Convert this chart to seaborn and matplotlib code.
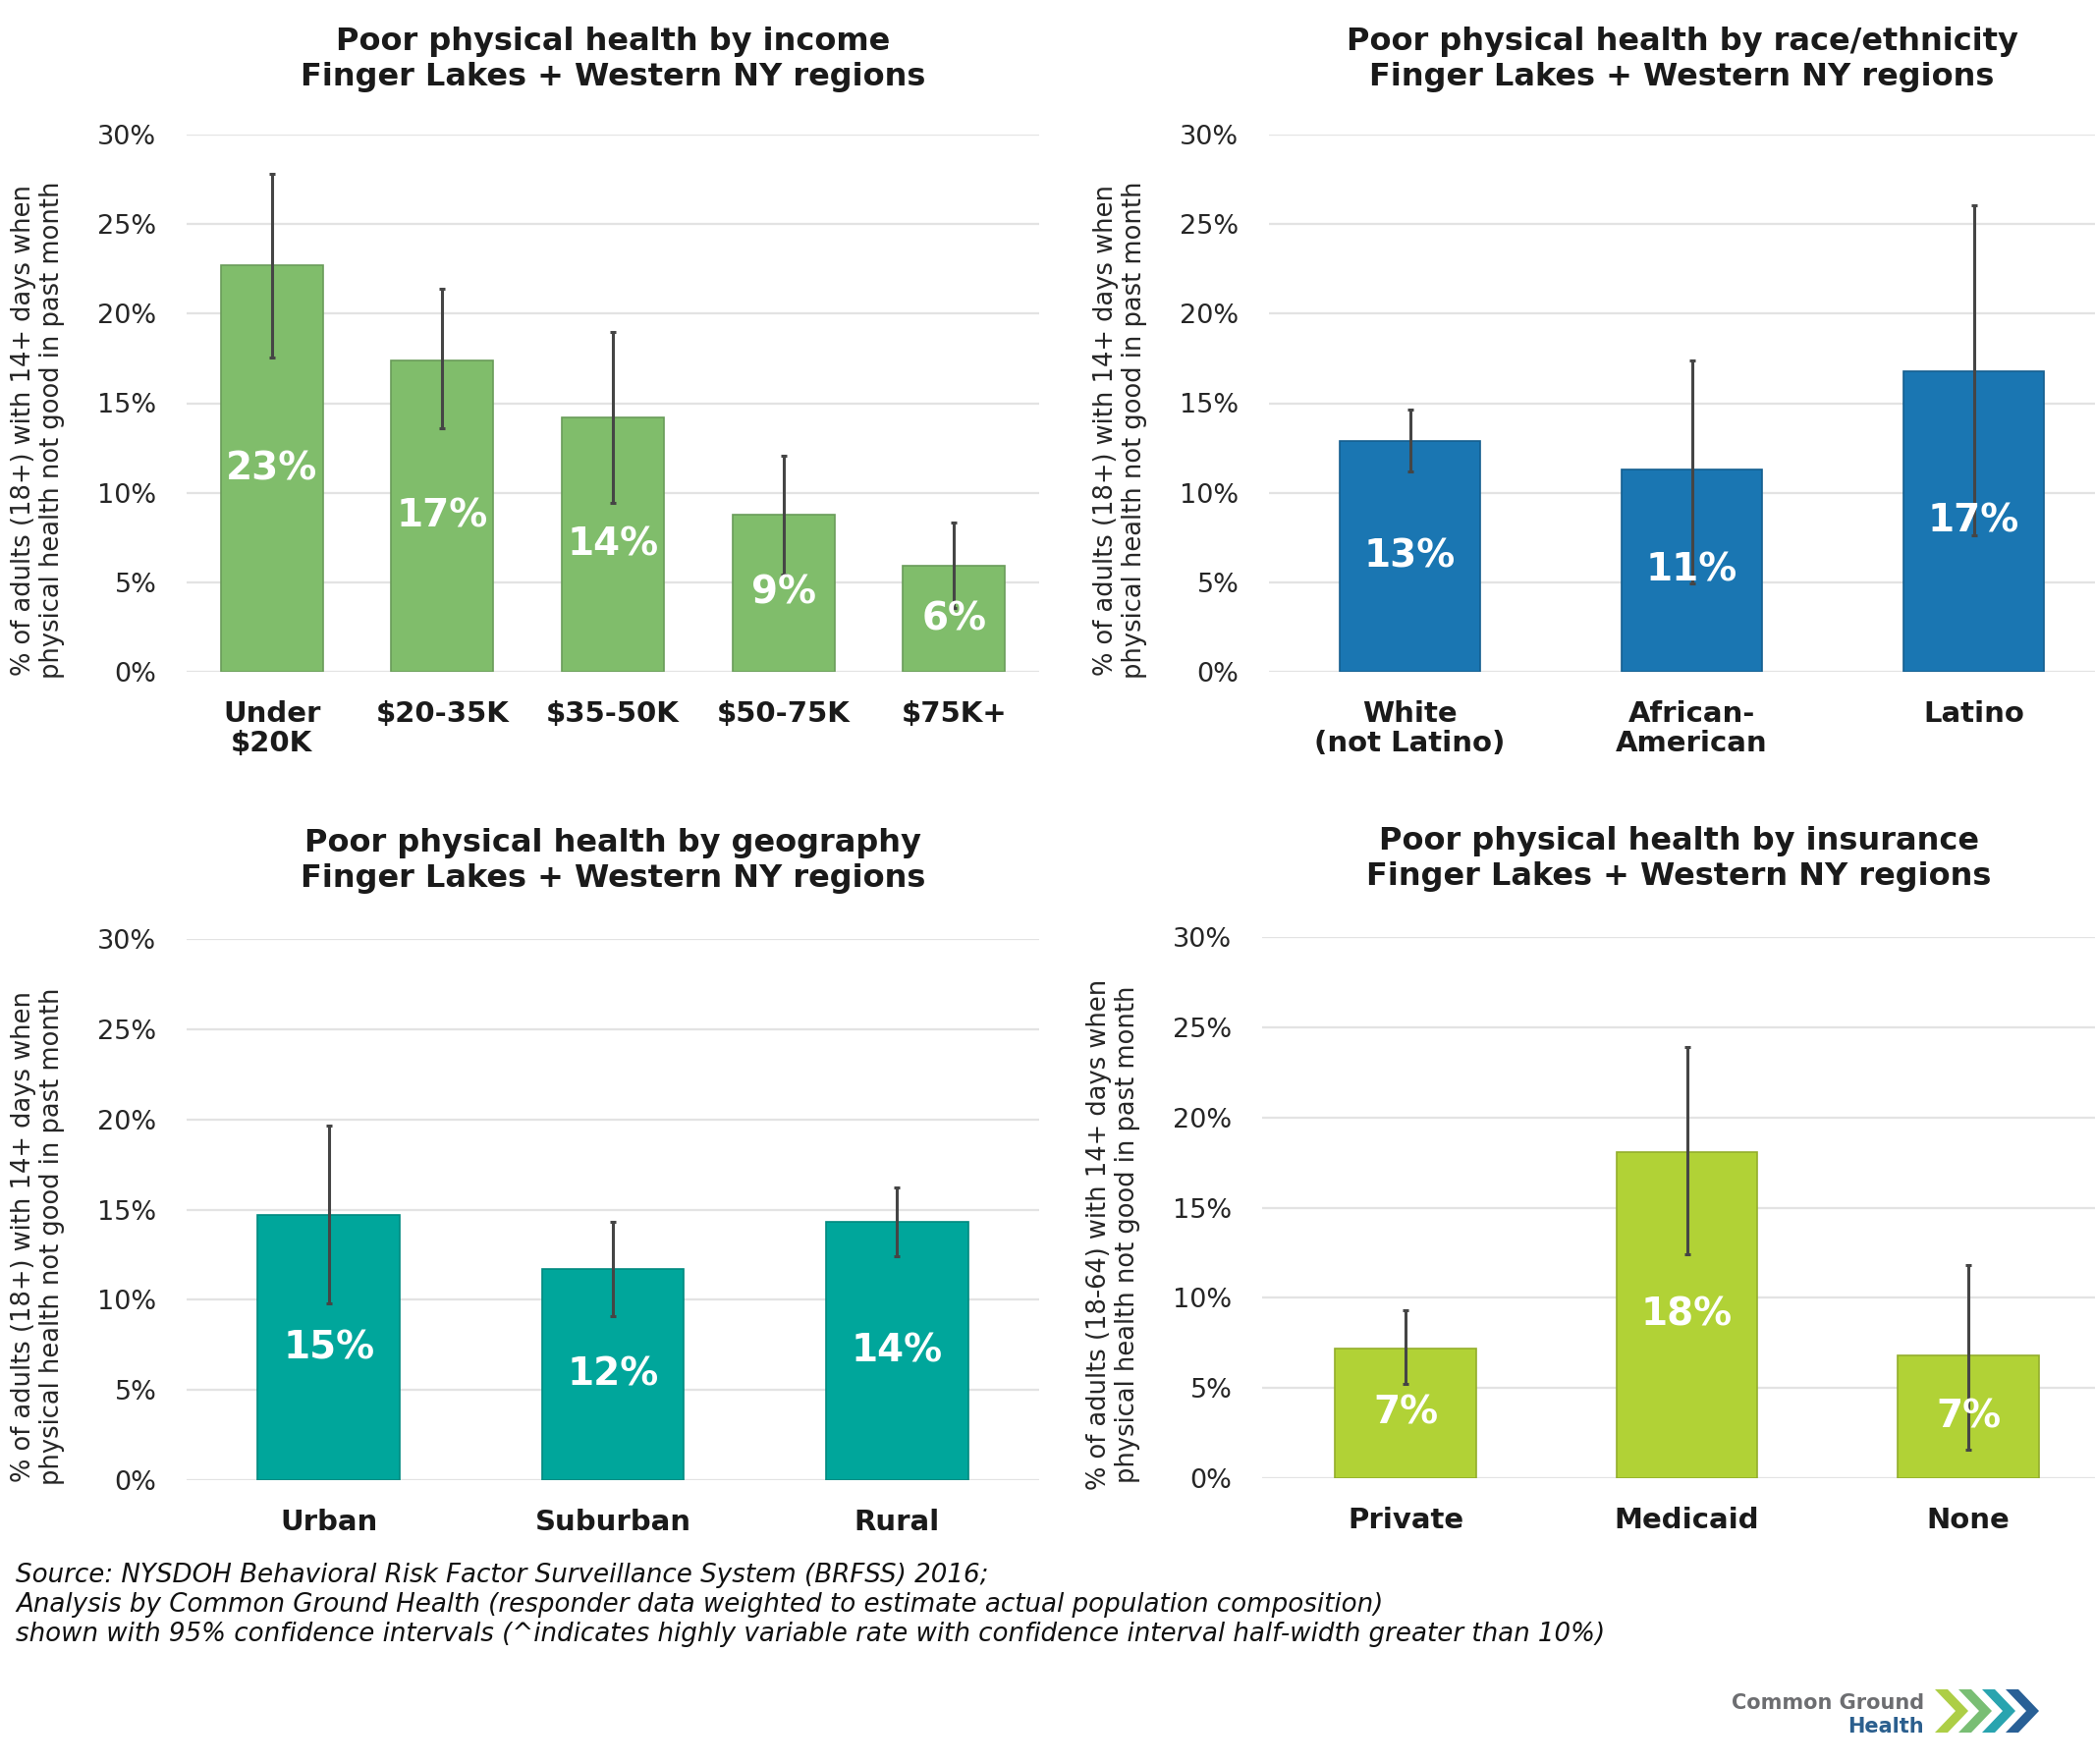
import numpy as np
import pandas as pd
import matplotlib
matplotlib.use("Agg")
import matplotlib.pyplot as plt
from matplotlib.patches import Polygon
import seaborn as sns

# ---------------- data ----------------
income_cats = ["Under\n$20K", "$20-35K", "$35-50K", "$50-75K", "$75K+"]
income_vals = [22.7, 17.4, 14.2, 8.8, 5.9]
income_lo = [17.55, 13.6, 9.45, 5.45, 3.55]
income_hi = [27.8, 21.4, 19.0, 12.05, 8.35]

race_cats = ["White\n(not Latino)", "African-\nAmerican", "Latino"]
race_vals = [12.9, 11.3, 16.8]
race_lo = [11.2, 4.95, 7.65]
race_hi = [14.65, 17.4, 26.05]

geo_cats = ["Urban", "Suburban", "Rural"]
geo_vals = [14.7, 11.7, 14.3]
geo_lo = [9.8, 9.1, 12.4]
geo_hi = [19.65, 14.3, 16.2]

ins_cats = ["Private", "Medicaid", "None"]
ins_vals = [7.2, 18.1, 6.8]
ins_lo = [5.2, 12.4, 1.6]
ins_hi = [9.3, 23.9, 11.8]

yticks = [0, 5, 10, 15, 20, 25, 30]
ytick_labels = ["0%", "5%", "10%", "15%", "20%", "25%", "30%"]

titles = [
    "Poor physical health by income\nFinger Lakes + Western NY regions",
    "Poor physical health by race/ethnicity\nFinger Lakes + Western NY regions",
    "Poor physical health by geography\nFinger Lakes + Western NY regions",
    "Poor physical health by insurance\nFinger Lakes + Western NY regions",
]
ylabel_18 = "% of adults (18+) with 14+ days when\nphysical health not good in past month"
ylabel_1864 = "% of adults (18-64) with 14+ days when\nphysical health not good in past month"

source_text = ("Source: NYSDOH Behavioral Risk Factor Surveillance System (BRFSS) 2016;\n"
               "Analysis by Common Ground Health (responder data weighted to estimate actual population composition)\n"
               "shown with 95% confidence intervals (^indicates highly variable rate with confidence interval half-width greater than 10%)")

# ---------------- style ----------------
sns.set_style("white")
plt.rcParams["font.family"] = ["DejaVu Sans"]

W, H = 2133, 1796
fig = plt.figure(figsize=(W / 100, H / 100), dpi=100)
fig.patch.set_facecolor("white")


def px_axes(left, top, right, bottom):
    return fig.add_axes([left / W, 1 - bottom / H, (right - left) / W, (bottom - top) / H])


panels = [
    dict(rect=(190, 137, 1058, 684), cats=income_cats, vals=income_vals, lo=income_lo, hi=income_hi,
         color="#80bd6b", edge="#6a9c5a", width=0.6, xlim=(-0.5, 4.5), title=titles[0],
         ylabel=ylabel_18, pad=36),
    dict(rect=(1292, 137, 2133, 684), cats=race_cats, vals=race_vals, lo=race_lo, hi=race_hi,
         color="#1a76b2", edge="#155f90", width=0.5, xlim=(-0.5, 2.43), title=titles[1],
         ylabel=ylabel_18, pad=36),
    dict(rect=(190, 956, 1058, 1507), cats=geo_cats, vals=geo_vals, lo=geo_lo, hi=geo_hi,
         color="#00a69b", edge="#008a80", width=0.5, xlim=(-0.5, 2.5), title=titles[2],
         ylabel=ylabel_18, pad=38),
    dict(rect=(1285, 954, 2133, 1505), cats=ins_cats, vals=ins_vals, lo=ins_lo, hi=ins_hi,
         color="#b1d236", edge="#93ae2c", width=0.5, xlim=(-0.51, 2.45), title=titles[3],
         ylabel=ylabel_1864, pad=38),
]

for p in panels:
    l, t, r, b = p["rect"]
    ax = px_axes(l, t, r, b)
    df = pd.DataFrame({"cat": p["cats"], "val": p["vals"]})
    sns.barplot(data=df, x="cat", y="val", color=p["color"], width=p["width"],
                saturation=1, edgecolor=p["edge"], linewidth=1.2, errorbar=None, ax=ax, zorder=2)
    vals = np.array(p["vals"])
    lo = np.array(p["lo"])
    hi = np.array(p["hi"])
    xs = np.arange(len(vals))
    ax.errorbar(xs, vals, yerr=[vals - lo, hi - vals], fmt="none", ecolor="#454545",
                elinewidth=2.2, capsize=2.5, capthick=2.2, zorder=3)
    ax.bar_label(ax.containers[0], labels=[f"{v:.0f}%" for v in vals], label_type="center",
                 color="white", fontsize=28, fontweight="bold", zorder=4)
    ax.set_ylim(0, 30)
    ax.set_xlim(*p["xlim"])
    ax.set_yticks(yticks)
    ax.set_yticklabels(ytick_labels, fontsize=19.5, color="#262626")
    ax.tick_params(axis="y", length=0, pad=22)
    ax.tick_params(axis="x", length=0, pad=21)
    for lab in ax.get_xticklabels():
        lab.set_fontsize(21)
        lab.set_fontweight("bold")
        lab.set_color("#1a1a1a")
        lab.set_linespacing(1.1)
    ax.yaxis.grid(True, color="#e3e3e3", linewidth=1.6, zorder=0)
    ax.set_axisbelow(True)
    for s in ax.spines.values():
        s.set_visible(False)
    ax.set_xlabel("")
    ax.set_ylabel(p["ylabel"], fontsize=18.5, color="#262626", linespacing=1.15)
    axw = r - l
    ax.yaxis.set_label_coords(-124 / axw, 0.45)
    ax.set_title(p["title"], fontsize=23, fontweight="bold", color="#1a1a1a",
                 pad=p["pad"], linespacing=1.2)

# source note
fig.text(16 / W, 1 - 1591 / H, source_text, fontsize=18.8, style="italic", color="#111111",
         ha="left", va="top", linespacing=1.2)

# logo (decorative)
fig.text(1959 / W, 1 - 1740 / H, "Common Ground", fontsize=15, fontweight="bold",
         color="#6d6e71", ha="right", va="baseline")
fig.text(1959 / W, 1 - 1764 / H, "Health", fontsize=15, fontweight="bold",
         color="#2b5f8e", ha="right", va="baseline")
chev_colors = ["#a9cc3c", "#72bb6c", "#1d9fab", "#1d5791"]
yc, hh, th, dp = 1742, 22, 13, 21
for i, c in enumerate(chev_colors):
    x0 = 1970 + i * 24
    pts = [(x0, yc - hh), (x0 + th, yc - hh), (x0 + th + dp, yc), (x0 + th, yc + hh),
           (x0, yc + hh), (x0 + dp, yc)]
    pts = [(x / W, 1 - y / H) for x, y in pts]
    fig.patches.append(Polygon(pts, closed=True, facecolor=c, edgecolor="none",
                               transform=fig.transFigure, figure=fig, alpha=0.95))

fig.savefig("out.png", dpi=100, facecolor="white")
